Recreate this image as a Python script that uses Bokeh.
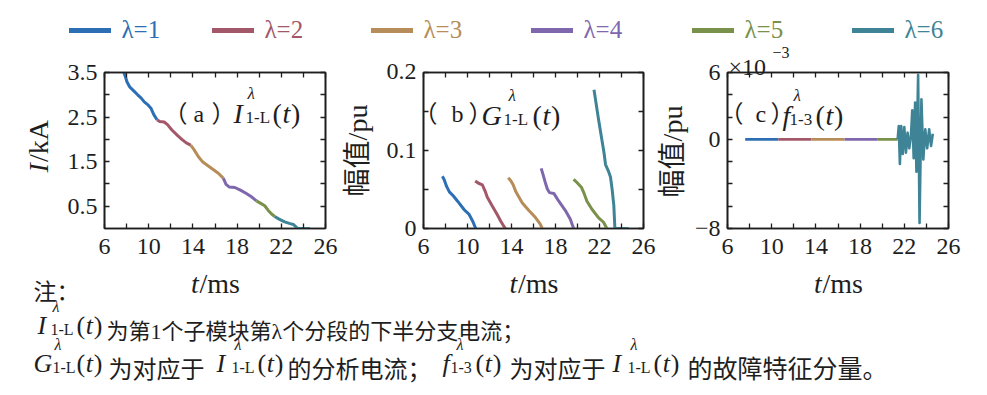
import math
import numpy as np
from bokeh.plotting import figure
from bokeh.models import (FixedTicker, LinearAxis, Label, Legend, LegendItem, Range1d, GridBox)
from bokeh.layouts import row
from bokeh.core.properties import value
from bokeh.embed import file_html
from bokeh.resources import INLINE

# ---------------- data ----------------
series_names = ["λ=1", "λ=2", "λ=3", "λ=4", "λ=5", "λ=6"]
series_colors = ["#2c6fb4", "#a25868", "#b68d58", "#7f67ad", "#79914a", "#3e8496"]

x_ticks = [6, 10, 14, 18, 22, 26]
x_minor = [8, 12, 16, 20, 24]
x_labels = ["6", "10", "14", "18", "22", "26"]

# (a) I_1-L(t), kA
a_t1 = [7.75, 7.9, 8.05, 8.3, 8.6, 9.0, 9.3, 9.6, 9.9, 10.2, 10.45, 10.75]
a_I1 = [3.50, 3.40, 3.28, 3.17, 3.10, 3.00, 2.93, 2.84, 2.78, 2.70, 2.56, 2.44]
a_t2 = [10.75, 11.0, 11.4, 11.7, 12.1, 12.6, 13.0, 13.4, 13.8]
a_I2 = [2.44, 2.40, 2.39, 2.33, 2.21, 2.09, 2.00, 1.92, 1.87]
a_t3 = [13.8, 14.1, 14.5, 14.9, 15.3, 15.8, 16.3, 16.75]
a_I3 = [1.87, 1.77, 1.61, 1.49, 1.42, 1.33, 1.24, 1.13]
a_t4 = [16.75, 17.0, 17.3, 17.8, 18.3, 18.8, 19.3, 19.75]
a_I4 = [1.13, 0.99, 0.93, 0.92, 0.86, 0.79, 0.71, 0.62]
a_t5 = [19.75, 20.1, 20.5, 20.8, 21.1, 21.4]
a_I5 = [0.62, 0.57, 0.51, 0.41, 0.33, 0.27]
a_t6 = [21.4, 21.8, 22.3, 22.8, 23.1, 23.35, 23.5, 24.6]
a_I6 = [0.27, 0.21, 0.15, 0.11, 0.09, 0.03, 0.0, 0.0]

# (b) G_1-L(t), pu
b_t1 = [7.72, 7.9, 8.1, 8.35, 8.7, 9.1, 9.7, 10.15, 10.45, 10.75]
b_G1 = [0.067, 0.062, 0.054, 0.047, 0.042, 0.035, 0.024, 0.018, 0.010, 0.0]
b_t2 = [10.7, 11.0, 11.35, 11.6, 11.8, 12.25, 12.7, 13.0, 13.3, 13.45]
b_G2 = [0.061, 0.058, 0.056, 0.048, 0.040, 0.029, 0.018, 0.010, 0.003, 0.0]
b_t3 = [13.7, 13.95, 14.15, 14.4, 14.97, 15.58, 16.18, 16.6, 16.8]
b_G3 = [0.065, 0.061, 0.056, 0.047, 0.033, 0.023, 0.014, 0.006, 0.0]
b_t4 = [16.7, 16.85, 17.05, 17.25, 17.45, 17.85, 18.3, 18.9, 19.35, 19.65]
b_G4 = [0.077, 0.070, 0.060, 0.051, 0.046, 0.045, 0.035, 0.023, 0.012, 0.0]
b_t5 = [19.65, 19.95, 20.35, 20.6, 20.86, 21.3, 21.9, 22.37, 22.67]
b_G5 = [0.063, 0.059, 0.053, 0.045, 0.035, 0.025, 0.014, 0.008, 0.0]
b_t6 = [21.5, 21.9, 22.2, 22.4, 22.55, 22.8, 23.0, 23.15, 23.3, 23.4, 24.65]
b_G6 = [0.178, 0.141, 0.115, 0.098, 0.082, 0.074, 0.066, 0.050, 0.030, 0.0, 0.0]

# (c) f_1-3(t), x 1e-3 pu
c_t1 = [7.6, 10.6]
c_f1 = [0.0, 0.0]
c_t2 = [10.6, 13.6]
c_f2 = [0.0, 0.0]
c_t3 = [13.6, 16.6]
c_f3 = [0.0, 0.0]
c_t4 = [16.6, 19.6]
c_f4 = [0.0, 0.0]
c_t5 = [19.6, 21.4]
c_f5 = [0.0, 0.0]
c_t6 = [21.4, 21.5, 21.6, 21.72, 21.86, 22.0, 22.15, 22.3, 22.45, 22.6, 22.72, 22.85,
        22.98, 23.1, 23.25, 23.38, 23.55, 23.72, 23.9, 24.07, 24.25, 24.42, 24.58]
c_f6 = [0.0, 1.2, -2.2, 1.2, -1.3, 1.1, -1.2, 0.6, -0.8, 0.3, 2.6, -1.7,
        3.3, -2.9, 5.8, -7.5, 3.6, -1.8, 0.9, -0.8, 0.9, -0.6, 0.5]

a_y_ticks = [0.5, 1.5, 2.5, 3.5]
a_y_minor = [1.0, 2.0, 3.0]
a_y_labels = ["0.5", "1.5", "2.5", "3.5"]
b_y_ticks = [0, 0.1, 0.2]
b_y_minor = [0.05, 0.15]
b_y_labels = ["0", "0.1", "0.2"]
c_y_ticks = [-8, 0, 6]
c_y_minor = [-6, -4, -2, 2, 4]
c_y_labels = ["\u22128", "0", "6"]

a_series = [(a_t1, a_I1), (a_t2, a_I2), (a_t3, a_I3), (a_t4, a_I4), (a_t5, a_I5), (a_t6, a_I6)]
b_series = [(b_t1, b_G1), (b_t2, b_G2), (b_t3, b_G3), (b_t4, b_G4), (b_t5, b_G5), (b_t6, b_G6)]
c_series = [(c_t1, c_f1), (c_t2, c_f2), (c_t3, c_f3), (c_t4, c_f4), (c_t5, c_f5), (c_t6, c_f6)]

note_line2 = "为第1个子模块第λ个分段的下半分支电流；"
note_line3 = ["为对应于", "的分析电流；", "为对应于", "的故障特征分量。"]

# ---------------- styling ----------------
SERIF = "Liberation Serif"
MIX = "Liberation Serif, Noto Sans CJK SC"
INK = "#1e1e1e"
W, H = 987, 395

# frame boxes of the three panels in page pixels: (left, right, top, bottom)
FRAMES = {"a": (104, 325, 72, 228), "b": (423, 643, 71, 228), "c": (727, 948, 72, 228)}
Y_LIMITS = {"a": (0, 3.5), "b": (0, 0.2), "c": (-8, 6)}


def style_axis(ax, ticks, minor):
    ax.ticker = FixedTicker(ticks=ticks, minor_ticks=minor)
    ax.major_tick_in = 5
    ax.major_tick_out = 0
    ax.minor_tick_in = 5
    ax.minor_tick_out = 0
    ax.axis_line_color = INK
    ax.axis_line_width = 1.6
    ax.major_tick_line_color = INK
    ax.minor_tick_line_color = INK
    ax.major_tick_line_width = 1.3
    ax.minor_tick_line_width = 1.3
    ax.major_label_overrides = {t: "" for t in ticks}
    ax.major_label_standoff = 0
    ax.major_label_text_font_size = "1px"


def make_panel(key, fig_left, fig_right, yt, ym):
    fl, fr, ft, fb = FRAMES[key]
    p = figure(width=fig_right - fig_left, height=H, x_range=Range1d(6, 26),
               y_range=Range1d(*Y_LIMITS[key]), output_backend="svg", toolbar_location=None,
               min_border_left=fl - fig_left, min_border_right=fig_right - fr,
               min_border_top=ft, min_border_bottom=H - fb)
    p.grid.visible = False
    p.outline_line_color = INK
    p.outline_line_width = 1.6
    p.background_fill_color = "white"
    p.border_fill_color = "white"
    style_axis(p.xaxis[0], x_ticks, x_minor)
    style_axis(p.yaxis[0], yt, ym)
    top_ax = LinearAxis()
    style_axis(top_ax, x_ticks, x_minor)
    p.add_layout(top_ax, "above")
    right_ax = LinearAxis()
    style_axis(right_ax, yt, ym)
    p.add_layout(right_ax, "right")
    return p


pa = make_panel("a", 0, 337, a_y_ticks, a_y_minor)
pb = make_panel("b", 337, 656, b_y_ticks, b_y_minor)
pc = make_panel("c", 656, 987, c_y_ticks, c_y_minor)

for (t, v), col in zip(a_series, series_colors):
    pa.line(t, v, line_color=col, line_width=3, line_join="round")
for (t, v), col in zip(b_series, series_colors):
    pb.line(t, v, line_color=col, line_width=3, line_join="round")
for (t, v), col in zip(c_series, series_colors):
    pc.line(t, v, line_color=col, line_width=2.6, line_join="round")

base = row(pa, pb, pc)

# ---------------- transparent text overlay (page pixels, y measured upward) ----------------
ov = figure(width=W, height=H, x_range=Range1d(0, W), y_range=Range1d(0, H),
            output_backend="svg", toolbar_location=None, min_border=0,
            x_axis_location=None, y_axis_location=None)
ov.grid.visible = False
ov.outline_line_color = None
ov.background_fill_alpha = 0
ov.border_fill_alpha = 0

# named ranges that reproduce each panel's scales over the overlay canvas
for key, (fl, fr, ft, fb) in FRAMES.items():
    kx = 20.0 / (fr - fl)
    y0, y1 = Y_LIMITS[key]
    ky = (y1 - y0) / (fb - ft)
    ov.extra_x_ranges["x" + key] = Range1d(6 - fl * kx, 26 + (W - fr) * kx)
    ov.extra_y_ranges["y" + key] = Range1d(y0 - (H - fb) * ky, y1 + ft * ky)


def py(page_y):
    return H - page_y


def lab(x, y, text, size, font=SERIF, style="normal", angle=0.0, align="left",
        baseline="alphabetic"):
    ov.add_layout(Label(x=x, y=y, text=text, text_font=font, text_font_size=f"{size}px",
                        text_font_style=style, angle=angle, text_align=align,
                        text_baseline=baseline, text_color=INK))


def formula(x, y, base_txt, sup, sub, dsub, dsup, dpar, size=28, ssize=17):
    lab(x, y, base_txt, size, style="italic")
    lab(x + dsup, y + 0.72 * size, sup, ssize, style="italic")
    lab(x + dsub, y - 0.16 * size, sub, ssize)
    xp = x + dpar
    lab(xp, y, "(", size)
    lab(xp + 0.36 * size, y, "t", size, style="italic")
    lab(xp + 0.36 * size + 0.30 * size, y, ")", size)


# tick labels, positioned through each panel's scales
for key, yt, ylabs in (("a", a_y_ticks, a_y_labels), ("b", b_y_ticks, b_y_labels),
                       ("c", c_y_ticks, c_y_labels)):
    fl, fr, ft, fb = FRAMES[key]
    ov.text(x=x_ticks, y=[py(fb + 18)] * len(x_ticks), text=x_labels, x_range_name="x" + key,
            text_font=value(SERIF), text_font_size="24px", text_align="center",
            text_baseline="middle", text_color=INK)
    ov.text(x=[fl - 7] * len(yt), y=yt, text=ylabs, y_range_name="y" + key,
            text_font=value(SERIF), text_font_size="24px", text_align="right",
            text_baseline="middle", text_color=INK)

# legend
leg_starts = [68.5, 211.5, 370.5, 530.5, 691.5, 851.5]
for name, col, x0 in zip(series_names, series_colors, leg_starts):
    r = ov.line(x=np.array([np.nan]), y=np.array([np.nan]), line_color=col,
                line_width=5, line_cap="round")
    lg = Legend(items=[LegendItem(label=name, renderers=[r])], location=(x0, py(30) - 15),
                orientation="horizontal", padding=0, margin=0, spacing=0,
                glyph_width=42, glyph_height=30, label_height=30, label_standoff=11,
                label_text_font=SERIF, label_text_font_size="25px",
                label_text_color=col, border_line_alpha=0, background_fill_alpha=0)
    ov.add_layout(lg)

# exponent of panel (c)
lab(728, py(66), "×10", 24)
lab(772, py(52), "\u22123", 16)

# panel titles
for lp, letter, lx, rp, bl in ((163, "a", 193, 211, 113), (413, "b", 451, 468, 113),
                               (719, "c", 755, 770, 113)):
    lab(lp, py(bl), "（", 24, font=MIX)
    lab(lx, py(bl), letter, 24)
    lab(rp, py(bl), "）", 24, font=MIX)
formula(233, py(113), "I", "λ", "1-L", 12, 14, 39)
formula(481, py(115), "G", "λ", "1-L", 22, 27, 51)
formula(782, py(115), "f", "λ", "1-3", 7, 11, 33)

# axis titles
for key in ("a", "b", "c"):
    fl, fr, ft, fb = FRAMES[key]
    cx = (fl + fr) / 2
    lab(cx - 24, py(283), "t", 28, style="italic")
    lab(cx - 24 + 8.5, py(283), "/ms", 28)
lab(37.5, py(172), "I", 28, style="italic", angle=math.pi / 2, baseline="middle")
lab(37.5, py(172) + 10.5, "/kA", 28, angle=math.pi / 2, baseline="middle")
lab(357, py(150), "幅值/pu", 28, font=MIX, angle=math.pi / 2, align="center", baseline="middle")
lab(672, py(151), "幅值/pu", 28, font=MIX, angle=math.pi / 2, align="center", baseline="middle")

# notes
lab(33, py(292), "注：", 23, font=MIX)
formula(37, py(325), "I", "λ", "1-L", 13, 15, 39, size=26, ssize=16)
lab(106, py(331), note_line2, 22, font=MIX)
formula(33, py(363), "G", "λ", "1-L", 19, 21, 43, size=26, ssize=16)
lab(108, py(369), note_line3[0], 24, font=MIX)
formula(216, py(363), "I", "λ", "1-L", 15, 18, 41, size=26, ssize=16)
lab(287, py(369), note_line3[1], 24, font=MIX)
formula(442, py(363), "f", "λ", "1-3", 8, 14, 33, size=26, ssize=16)
lab(509, py(369), note_line3[2], 24, font=MIX)
formula(612, py(363), "I", "λ", "1-L", 15, 18, 41, size=26, ssize=16)
lab(687, py(369), note_line3[3], 25, font=MIX)

layout = GridBox(children=[(base, 0, 0), (ov, 0, 0)])
open("out.html", "w").write(file_html(layout, INLINE))
